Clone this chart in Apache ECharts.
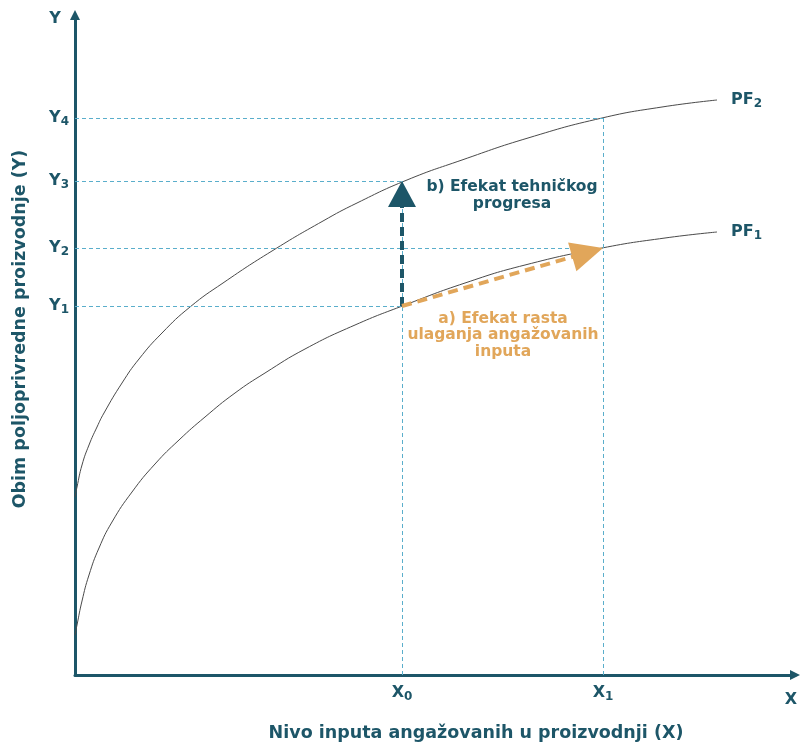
<!DOCTYPE html>
<html><head><meta charset="utf-8">
<script src="https://cdn.jsdelivr.net/npm/echarts@6/dist/echarts.min.js"></script>
<style>html,body{margin:0;padding:0;background:#fff}#c{width:800px;height:746px}</style>
</head><body><div id="c"></div>
<script>
// Curves (x = input level, y = output)
const pf1 = [[0,40],[2,50],[7,74],[14,100],[24,127],[37,153],[57,183],[80,211],[104,235],[130,258],[160,282],[190,302],[230,326],[280,350],[330,370],[390,392],[450,410],[527,427],[590,437],[642,443]];
const pf2 = [[0,178],[2,188],[7,210],[14,230],[22,248],[29,262],[47,292],[64,316],[87,342],[115,368],[148,392],[197,424],[248,454],[282,472],[332,495],[387,515],[453,537],[527,557],[587,568],[642,575]];
// Reference levels
const xLevels = [327, 528];            // X0, X1
const xTickNames = ['0', '1'];
const yLevels = [369, 427, 494, 557];  // Y1..Y4
const yTickNames = ['1', '2', '3', '4'];
const xMax = 720, yMax = 660;

const TEAL = '#1d5668', ORANGE = '#e1a65a', GUIDE = '#5aaecb', CURVE = '#4a4a4a';
const FONT = 'DejaVu Sans';

const X0 = xLevels[0], X1 = xLevels[1];
const Y1 = yLevels[0], Y2 = yLevels[1], Y3 = yLevels[2], Y4 = yLevels[3];

function shorten(from, to, len) {
  const dx = to[0] - from[0], dy = to[1] - from[1];
  const d = Math.sqrt(dx*dx + dy*dy);
  return [to[0] - dx / d * len, to[1] - dy / d * len];
}

const guideSegs = [
  [[0, Y1], [X0, Y1]],
  [[0, Y2], [X1, Y2]],
  [[0, Y3], [X0, Y3]],
  [[0, Y4], [X1, Y4]],
  [[X0, 0], [X0, Y3]],
  [[X1, 0], [X1, Y4]]
];

const subRich = (size) => ({
  m: {fontFamily: FONT, fontWeight: 'bold', fontSize: size, color: TEAL, lineHeight: 20},
  s: {fontFamily: FONT, fontWeight: 'bold', fontSize: 12, color: TEAL, padding: [8, 0, 0, 0], lineHeight: 20}
});

const chart = echarts.init(document.getElementById('c'), null, {renderer: 'canvas'});
chart.setOption({
  animation: false,
  backgroundColor: '#fff',
  grid: {left: 75, right: 5, top: 15, bottom: 71, containLabel: false},
  xAxis: {
    type: 'value', min: 0, max: xMax,
    axisLine: {show: true, onZero: false, symbol: ['none', 'triangle'], symbolSize: [10, 10], lineStyle: {color: TEAL, width: 3}},
    axisTick: {show: false},
    splitLine: {show: false},
    axisLabel: {
      customValues: xLevels, margin: 8,
      formatter: v => '{m|X}{s|' + xTickNames[xLevels.indexOf(v)] + '}',
      rich: subRich(16)
    }
  },
  yAxis: {
    type: 'value', min: 0, max: yMax,
    axisLine: {show: true, onZero: false, symbol: ['none', 'triangle'], symbolSize: [10, 10], lineStyle: {color: TEAL, width: 3}},
    axisTick: {show: false},
    splitLine: {show: false},
    axisLabel: {
      customValues: yLevels, margin: 6,
      formatter: v => '{m|Y}{s|' + yTickNames[yLevels.indexOf(v)] + '}',
      rich: subRich(16)
    }
  },
  series: [
    {
      name: 'PF1', type: 'line', data: pf1, smooth: 0.5, showSymbol: false,
      lineStyle: {color: CURVE, width: 1}, z: 3,
      endLabel: {show: true, formatter: '{m|PF}{s|1}', offset: [6, 0], rich: subRich(16)}
    },
    {
      name: 'PF2', type: 'line', data: pf2, smooth: 0.5, showSymbol: false,
      lineStyle: {color: CURVE, width: 1}, z: 3,
      endLabel: {show: true, formatter: '{m|PF}{s|2}', offset: [6, 0], rich: subRich(16)}
    },
    {
      name: 'guides', type: 'line', data: [], z: 1,
      markLine: {
        silent: true, symbol: ['none', 'none'], label: {show: false},
        lineStyle: {color: GUIDE, width: 1, type: [4, 3]},
        data: guideSegs.map(s => [{coord: s[0]}, {coord: s[1]}])
      }
    },
    {
      name: 'arrows', type: 'line', data: [], z: 4,
      markLine: {
        silent: true, label: {show: false},
        data: [
          [{coord: [X0, Y1], symbol: 'none', lineStyle: {color: TEAL, width: 4, type: [9, 5]}},
           {coord: shorten([X0, Y1], [X0, Y3], 13), symbol: 'triangle', symbolSize: [28, 26]}],
          [{coord: [X0, Y1], symbol: 'none', lineStyle: {color: ORANGE, width: 4, type: [10, 6]}},
           {coord: shorten([X0, Y1], [X1, Y2], 16), symbol: 'triangle', symbolSize: [30, 32]}]
        ]
      }
    }
  ],
  graphic: [
    {type: 'text', x: 55, y: 19, style: {text: 'Y', fontFamily: FONT, fontWeight: 'bold', fontSize: 16, fill: TEAL, align: 'center', verticalAlign: 'middle'}},
    {type: 'text', x: 791, y: 700, style: {text: 'X', fontFamily: FONT, fontWeight: 'bold', fontSize: 16, fill: TEAL, align: 'center', verticalAlign: 'middle'}},
    {type: 'text', x: 20, y: 329, rotation: Math.PI / 2,
      style: {text: 'Obim poljoprivredne proizvodnje (Y)', fontFamily: FONT, fontWeight: 'bold', fontSize: 17.5, fill: TEAL, align: 'center', verticalAlign: 'middle'}},
    {type: 'text', x: 476, y: 733,
      style: {text: 'Nivo inputa angažovanih u proizvodnji (X)', fontFamily: FONT, fontWeight: 'bold', fontSize: 17.5, fill: TEAL, align: 'center', verticalAlign: 'middle'}},
    {type: 'text', x: 512, y: 195,
      style: {text: 'b) Efekat tehničkog\nprogresa', fontFamily: FONT, fontWeight: 'bold', fontSize: 15.5, lineHeight: 17, fill: TEAL, align: 'center', verticalAlign: 'middle'}},
    {type: 'text', x: 503, y: 335,
      style: {text: 'a) Efekat rasta\nulaganja angažovanih\ninputa', fontFamily: FONT, fontWeight: 'bold', fontSize: 15.5, lineHeight: 16.5, fill: ORANGE, align: 'center', verticalAlign: 'middle'}}
  ]
});
</script>
</body></html>
